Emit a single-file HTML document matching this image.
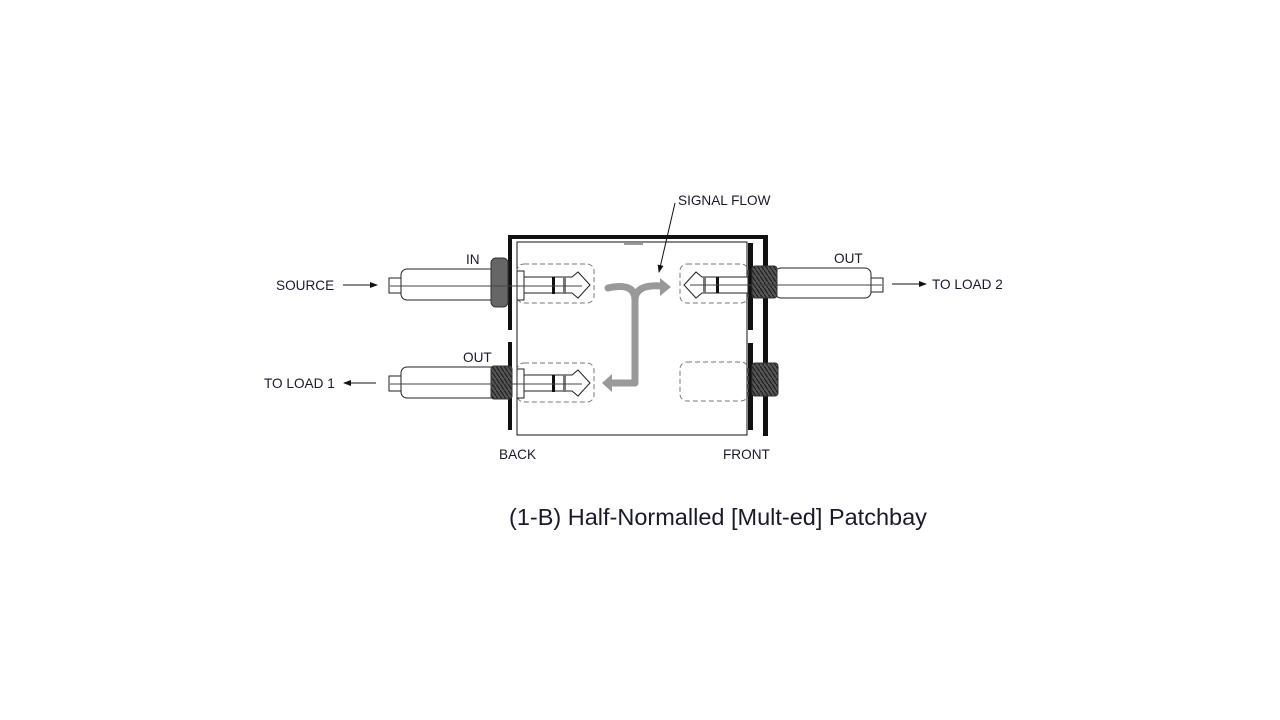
<!DOCTYPE html>
<html><head><meta charset="utf-8"><style>
html,body{margin:0;padding:0;background:#fff;width:1280px;height:720px;overflow:hidden}
text{font-family:"Liberation Sans",Arial,sans-serif;fill:#1a1a2a}
</style></head><body>
<svg width="1280" height="720" viewBox="0 0 1280 720" xmlns="http://www.w3.org/2000/svg">
<defs>
<pattern id="thr" width="4" height="6" patternUnits="userSpaceOnUse">
<rect width="4" height="6" fill="#555"/><path d="M0 0 L4 6" stroke="#222" stroke-width="1.2"/>
</pattern>
<marker id="ah" markerWidth="8" markerHeight="8" refX="7" refY="4" orient="auto" markerUnits="userSpaceOnUse"><path d="M0 1 L8 4 L0 7z" fill="#111"/></marker>
</defs>
<rect x="508" y="235" width="260" height="4" fill="#111"/>
<rect x="508" y="235" width="4" height="95" fill="#111"/>
<rect x="508" y="342" width="4" height="88" fill="#111"/>
<rect x="763" y="235" width="5" height="201" fill="#111"/>
<rect x="517" y="242" width="230" height="193" fill="none" stroke="#111" stroke-width="1"/>
<rect x="748" y="243" width="5" height="87" fill="#111"/>
<rect x="748" y="343" width="5" height="87" fill="#111"/>
<line x1="624" y1="244" x2="643" y2="244" stroke="#333" stroke-width="1"/>
<g fill="none" stroke="#777" stroke-width="1" stroke-dasharray="5,3">
<rect x="517" y="264" width="77" height="39" rx="7"/>
<rect x="517" y="363" width="77" height="39" rx="7"/>
<rect x="680" y="264" width="68" height="39" rx="7"/>
<rect x="680" y="362" width="68" height="39" rx="7"/>
</g>
<g stroke="#222" stroke-width="1" fill="#fff">
<rect x="389" y="278" width="12" height="15"/>
<rect x="401" y="269" width="95" height="31" rx="6"/>
<rect x="389" y="376" width="12" height="15"/>
<rect x="401" y="367" width="95" height="31" rx="6"/>
</g>
<rect x="491" y="258" width="17" height="49" rx="5" fill="#666" stroke="#333"/>
<rect x="491" y="366" width="21" height="33" rx="3" fill="url(#thr)" stroke="#333"/>
<g stroke="#222" stroke-width="1" fill="#fff">
<rect x="517" y="271" width="7" height="29"/>
<path d="M524 277 H572 L578 272 L590 285 L578 298 L572 293 H524z"/>
<rect x="517" y="369" width="7" height="29"/>
<path d="M524 375 H572 L578 370 L590 383 L578 396 L572 391 H524z"/>
</g>
<rect x="552" y="277" width="3" height="17" fill="#111"/>
<rect x="563" y="277" width="3" height="17" fill="#777"/>
<rect x="552" y="375" width="3" height="17" fill="#111"/>
<rect x="563" y="375" width="3" height="17" fill="#777"/>
<line x1="390" y1="286" x2="582" y2="286" stroke="#444" stroke-width="1"/>
<line x1="390" y1="384" x2="582" y2="384" stroke="#444" stroke-width="1"/>
<g stroke="#222" stroke-width="1" fill="#fff">
<rect x="775" y="268" width="96" height="30" rx="6"/>
<rect x="871" y="278" width="12" height="14"/>
<path d="M748 277 H702 L696 272 L684 285 L696 298 L702 293 H748z"/>
</g>
<rect x="752" y="266" width="25" height="32" rx="3" fill="url(#thr)" stroke="#333"/>
<rect x="752" y="363" width="26" height="33" rx="3" fill="url(#thr)" stroke="#333"/>
<rect x="703" y="277" width="3" height="16" fill="#777"/>
<rect x="716" y="277" width="3" height="16" fill="#111"/>
<line x1="690" y1="285" x2="882" y2="285" stroke="#444" stroke-width="1"/>
<g fill="none" stroke="#999" stroke-width="7" stroke-linecap="round" stroke-linejoin="round">
<path d="M608 288 Q635 282 635 300 L635 383 L612 383"/>
<path d="M635 300 Q635 284 662 286"/>
</g>
<path d="M660 278 L671 287 L660 296z" fill="#999"/>
<path d="M612 374 L602 383 L612 392z" fill="#999"/>
<line x1="675" y1="203" x2="659" y2="272" stroke="#111" stroke-width="1" marker-end="url(#ah)"/>
<line x1="343" y1="285" x2="377" y2="285" stroke="#111" stroke-width="1" marker-end="url(#ah)"/>
<line x1="376" y1="383" x2="344" y2="383" stroke="#111" stroke-width="1" marker-end="url(#ah)"/>
<line x1="892" y1="284" x2="926" y2="284" stroke="#111" stroke-width="1" marker-end="url(#ah)"/>
<g font-size="13.6">
<text x="678" y="205">SIGNAL FLOW</text>
<text x="466" y="264">IN</text>
<text x="463" y="362">OUT</text>
<text x="834" y="263">OUT</text>
<text x="276" y="290">SOURCE</text>
<text x="264" y="388">TO LOAD 1</text>
<text x="932" y="289">TO LOAD 2</text>
<text x="499" y="459">BACK</text>
<text x="723" y="459">FRONT</text>
</g>
<text x="509" y="525" font-size="23.5">(1-B) Half-Normalled [Mult-ed] Patchbay</text>
</svg>
</body></html>
